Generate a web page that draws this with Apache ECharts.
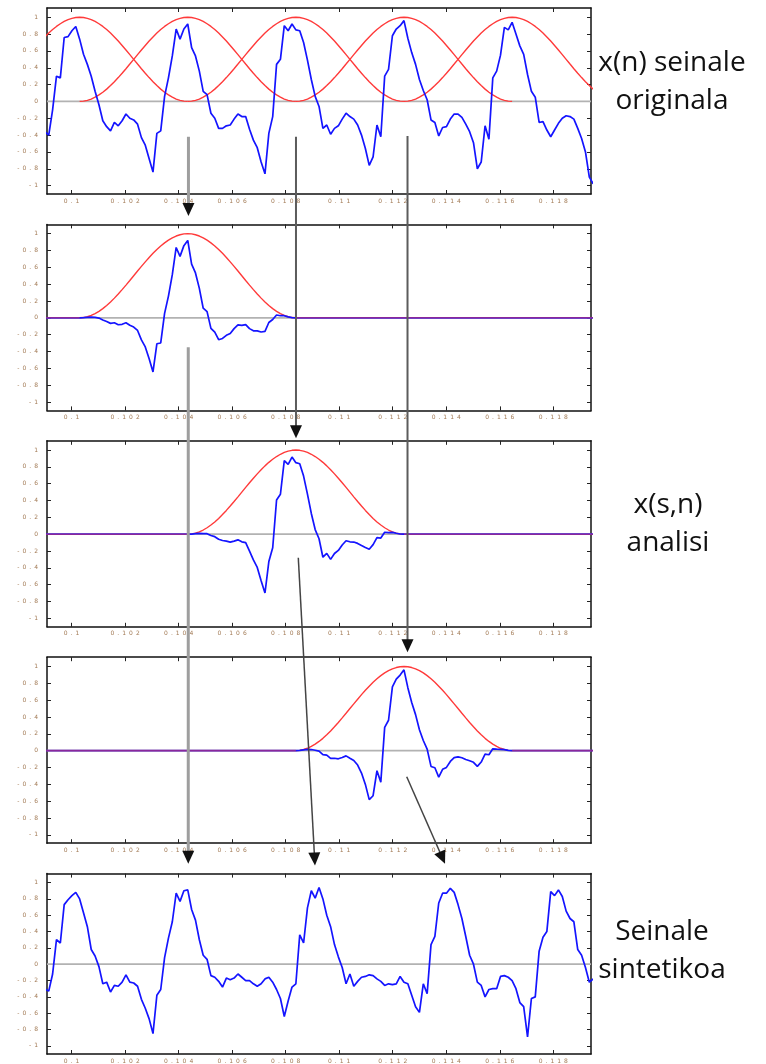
<!DOCTYPE html>
<html><head><meta charset="utf-8">
<script src="https://cdn.jsdelivr.net/npm/echarts@6/dist/echarts.min.js"></script>
<style>html,body{margin:0;padding:0;background:#fff}#c{width:766px;height:1064px}</style>
</head><body><div id="c"></div>
<script>
// ---- sampling grid (seconds) ----
const T0 = 0.099001;
const DT = 0.0001443;
const X_MIN = 0.09908, X_MAX = 0.11941;
const Y_MIN = -1.1, Y_MAX = 1.11;
const xTicks = [0.1, 0.102, 0.104, 0.106, 0.108, 0.11, 0.112, 0.114, 0.116, 0.118];
const yTicks = [-1, -0.8, -0.6, -0.4, -0.2, 0, 0.2, 0.4, 0.6, 0.8, 1];

// x(n) original signal (panel 1)
const original = [
 -0.36,-0.40,-0.10,0.30,0.28,0.76,0.77,0.84,0.89,0.74,
 0.56,0.44,0.30,0.12,-0.04,-0.23,-0.30,-0.35,-0.25,-0.29,
 -0.23,-0.15,-0.20,-0.22,-0.27,-0.43,-0.52,-0.68,-0.84,-0.38,
 -0.35,0.06,0.28,0.54,0.86,0.74,0.86,0.92,0.64,0.54,
 0.36,0.12,0.08,-0.14,-0.20,-0.32,-0.32,-0.29,-0.28,-0.21,
 -0.15,-0.18,-0.18,-0.33,-0.46,-0.55,-0.72,-0.86,-0.38,-0.18,
 0.44,0.50,0.90,0.84,0.92,0.85,0.84,0.70,0.49,0.26,
 0.06,-0.06,-0.32,-0.28,-0.39,-0.32,-0.29,-0.21,-0.14,-0.18,
 -0.21,-0.28,-0.40,-0.56,-0.76,-0.66,-0.28,-0.42,0.30,0.38,
 0.78,0.86,0.90,0.96,0.75,0.58,0.44,0.26,0.13,0.02,
 -0.22,-0.25,-0.41,-0.31,-0.30,-0.21,-0.15,-0.15,-0.19,-0.27,
 -0.36,-0.49,-0.80,-0.72,-0.29,-0.45,0.28,0.36,0.55,0.88,
 0.85,0.94,0.80,0.66,0.56,0.32,0.12,0.05,-0.25,-0.24,
 -0.34,-0.42,-0.34,-0.26,-0.20,-0.17,-0.18,-0.21,-0.32,-0.44,
 -0.60,-0.90,-0.98
];
// synthesized signal (panel 5)
const synthetic = [
 -0.30,-0.33,-0.12,0.30,0.26,0.73,0.79,0.84,0.88,0.80,
 0.63,0.46,0.18,0.10,-0.03,-0.24,-0.22,-0.34,-0.26,-0.27,
 -0.22,-0.13,-0.22,-0.23,-0.27,-0.43,-0.54,-0.67,-0.85,-0.38,
 -0.31,0.08,0.32,0.52,0.87,0.77,0.90,0.91,0.67,0.54,
 0.30,0.11,0.06,-0.14,-0.16,-0.21,-0.28,-0.17,-0.19,-0.17,
 -0.12,-0.16,-0.20,-0.20,-0.24,-0.27,-0.24,-0.18,-0.16,-0.22,
 -0.31,-0.42,-0.64,-0.45,-0.28,-0.24,0.36,0.26,0.69,0.90,
 0.81,0.94,0.80,0.60,0.46,0.24,0.09,-0.04,-0.24,-0.12,
 -0.27,-0.21,-0.16,-0.15,-0.13,-0.14,-0.18,-0.21,-0.26,-0.24,
 -0.25,-0.24,-0.15,-0.22,-0.24,-0.38,-0.52,-0.59,-0.24,-0.36,
 0.24,0.34,0.75,0.87,0.87,0.93,0.88,0.73,0.56,0.34,
 0.11,0.00,-0.22,-0.26,-0.40,-0.31,-0.30,-0.30,-0.15,-0.14,
 -0.16,-0.20,-0.30,-0.47,-0.52,-0.89,-0.42,-0.40,0.16,0.33,
 0.40,0.89,0.84,0.91,0.83,0.65,0.56,0.52,0.18,0.11,
 -0.04,-0.22,-0.18
];
// analysis window shape (57 samples)
const hann = [
 0,0.003,0.013,0.028,0.050,0.077,0.109,0.146,0.188,0.234,
 0.283,0.335,0.389,0.444,0.5,0.556,0.611,0.665,0.717,0.766,
 0.812,0.854,0.891,0.923,0.950,0.972,0.987,0.997,1,0.997,
 0.987,0.972,0.950,0.923,0.891,0.854,0.812,0.766,0.717,0.665,
 0.611,0.556,0.5,0.444,0.389,0.335,0.283,0.234,0.188,0.146,
 0.109,0.077,0.050,0.028,0.013,0.003,0
];
// first sample index of each analysis frame
const frameStarts = [-19, 9, 37, 65, 93];
const sideTexts = [['x(n) seinale','originala'], ['x(s,n)','analisi'], ['Seinale','sintetikoa']];

// ---- layout ----
const PANEL_TOP = 8, PANEL_STEP = 216.4, PANEL_H = 186, PANEL_L = 47, PANEL_W = 544;
const textLayout = [{panel:0, x:672, y:[63,101]}, {panel:2, x:668, y:[505,543]}, {panel:4, x:662, y:[932,970]}];
const arrowLinks = [
 {from:[0,0.104366,-0.42], to:[1,0.104366,1.21], color:'#9e9e9e', width:3},
 {from:[0,0.108385,-0.42], to:[2,0.108385,1.14], color:'#5c5c5c', width:2},
 {from:[0,0.112553,-0.41], to:[3,0.112553,1.17], color:'#5c5c5c', width:2},
 {from:[1,0.104359,-0.35], to:[4,0.104359,1.23], color:'#9e9e9e', width:3},
 {from:[2,0.108471,-0.28], to:[4,0.109095,1.21], color:'#444', width:1.5},
 {from:[3,0.112523,-0.31], to:[4,0.113955,1.23], color:'#444', width:1.5}
];

const BLUE = '#1414ff', RED = '#ff3a3a', GRAYZ = '#b2b2b2';
const N = original.length;
const tOf = i => T0 + i * DT;
const spaced = s => s.split('').join('\u2002');
const lblColor = '#a27a55';

const grids = [], xAxes = [], yAxes = [], series = [];
for (let p = 0; p < 5; p++) {
  grids.push({left: PANEL_L, width: PANEL_W, top: PANEL_TOP + PANEL_STEP * p, height: PANEL_H});
  const axLine = {show: true, onZero: false, lineStyle: {color: '#111', width: 1.5}};
  const tick = vals => ({show: true, inside: true, length: 4, customValues: vals, lineStyle: {color: '#222', width: 1}});
  xAxes.push({type: 'value', gridIndex: p, position: 'bottom', min: X_MIN, max: X_MAX,
    axisLine: axLine, axisTick: tick(xTicks), splitLine: {show: false},
    axisLabel: {customValues: xTicks, fontSize: 6, fontFamily: 'DejaVu Sans', color: lblColor, margin: 4,
      formatter: v => spaced(String(+v.toFixed(3)))}});
  xAxes.push({type: 'value', gridIndex: p, position: 'top', min: X_MIN, max: X_MAX,
    axisLine: axLine, axisTick: tick(xTicks), splitLine: {show: false}, axisLabel: {show: false}});
  yAxes.push({type: 'value', gridIndex: p, position: 'left', min: Y_MIN, max: Y_MAX,
    axisLine: axLine, axisTick: tick(yTicks), splitLine: {show: false},
    axisLabel: {customValues: yTicks, fontSize: 6, fontFamily: 'DejaVu Sans', color: lblColor, margin: 9,
      formatter: v => spaced(String(+v.toFixed(1)))}});
  yAxes.push({type: 'value', gridIndex: p, position: 'right', min: Y_MIN, max: Y_MAX,
    axisLine: axLine, axisTick: tick(yTicks), splitLine: {show: false}, axisLabel: {show: false}});
}
function line(p, data, color, width, extra) {
  return Object.assign({type: 'line', xAxisIndex: 2 * p, yAxisIndex: 2 * p, data: data, showSymbol: false,
    symbol: 'none', silent: true, animation: false, clip: true, connectNulls: false,
    lineStyle: {color: color, width: width}, itemStyle: {color: color}}, extra || {});
}
function windowData(k) {
  const s = frameStarts[k], out = [];
  for (let i = Math.max(0, s); i <= Math.min(N - 1, s + hann.length - 1); i++) out.push([tOf(i), hann[i - s]]);
  return out;
}
const zeroData = [[X_MIN, 0], [X_MAX, 0]];
// panel 0: original + all windows
series.push(line(0, zeroData, GRAYZ, 1.8));
for (let k = 0; k < frameStarts.length; k++) series.push(line(0, windowData(k), RED, 1.4));
series.push(line(0, original.map((v, i) => [tOf(i), v]), BLUE, 1.7));
// panels 1..3: windowed frames
for (let k = 1; k <= 3; k++) {
  const s = frameStarts[k], e = s + hann.length - 1;
  series.push(line(k, zeroData, GRAYZ, 1.8));
  series.push(line(k, windowData(k), RED, 1.4));
  series.push(line(k, original.map((v, i) => [tOf(i), (i >= s && i <= e) ? v * hann[i - s] : 0]), BLUE, 1.7));
  series.push(line(k, original.map((v, i) => [tOf(i), (i > s && i < e) ? '-' : 0]), RED, 1.6, {lineStyle: {color: RED, width: 1.6, opacity: 0.5}}));
}
// panel 4: synthesized
series.push(line(4, zeroData, GRAYZ, 1.8));
series.push(line(4, synthetic.map((v, i) => [tOf(i), v]), BLUE, 1.7));

const chart = echarts.init(document.getElementById('c'), null, {renderer: 'canvas'});
chart.setOption({animation: false, backgroundColor: '#fff', grid: grids, xAxis: xAxes, yAxis: yAxes, series: series});

const gfx = [];
function toPx(p) { return chart.convertToPixel({xAxisIndex: 2 * p[0], yAxisIndex: 2 * p[0]}, [p[1], p[2]]); }
arrowLinks.forEach(a => {
  const s = toPx(a.from), e = toPx(a.to);
  const dx = e[0] - s[0], dy = e[1] - s[1], L = Math.hypot(dx, dy), ux = dx / L, uy = dy / L;
  const hl = 13, hw = 6;
  const bx = e[0] - ux * hl, by = e[1] - uy * hl;
  gfx.push({type: 'line', silent: true, z: 100, shape: {x1: s[0], y1: s[1], x2: bx + ux * 2, y2: by + uy * 2},
    style: {stroke: a.color, lineWidth: a.width}});
  gfx.push({type: 'polygon', silent: true, z: 101,
    shape: {points: [[e[0], e[1]], [bx - uy * hw, by + ux * hw], [bx + uy * hw, by - ux * hw]]},
    style: {fill: '#111'}});
});
textLayout.forEach((t, n) => {
  sideTexts[n].forEach((txt, j) => {
    gfx.push({type: 'text', silent: true, z: 102, x: t.x, y: t.y[j],
      style: {text: txt, font: '28px "Open Sans"', fill: '#111', textAlign: 'center', textVerticalAlign: 'middle', verticalAlign: 'middle'}});
  });
});
chart.setOption({graphic: gfx});
</script></body></html>
